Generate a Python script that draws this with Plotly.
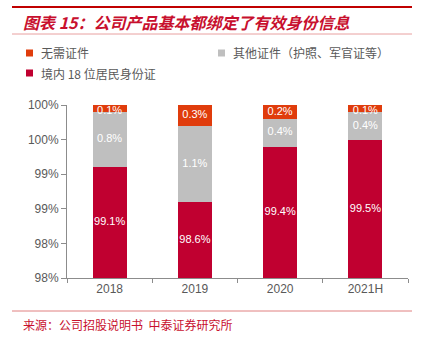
import math
import plotly.graph_objects as go

years = ["2018", "2019", "2020", "2021H"]
id_card = [99.1, 98.6, 99.4, 99.5]
other_docs = [0.8, 1.1, 0.4, 0.4]
no_docs = [0.1, 0.3, 0.2, 0.1]
y_ticks = [97.5, 98.0, 98.5, 99.0, 99.5, 100.0]

series = [
    ("境内18位居民身份证", id_card, "#C00030"),
    ("其他证件（护照、军官证等）", other_docs, "#BFBFBF"),
    ("无需证件", no_docs, "#E03C0C"),
]

W, H = 427, 338
L, R, T, B = 67, 19, 105, 60
Y0, Y1 = 97.5, 100.0

def px(x):
    return (x - L) / (W - L - R)

def py(y):
    return (H - B - y) / (H - T - B)

fig = go.Figure()
bases = [0.0] * len(years)
lab_x, lab_y, lab_t = [], [], []
for name, vals, color in series:
    fig.add_trace(go.Bar(x=years, y=vals, name=name, marker_color=color,
                         marker_line_width=0, width=0.4, showlegend=False))
    for i, v in enumerate(vals):
        lo = max(Y0, bases[i])
        hi = bases[i] + v
        mid = min((lo + hi) / 2, 99.91)
        lab_x.append(years[i])
        lab_y.append(mid)
        lab_t.append(f"{v:.1f}%")
        bases[i] = hi

fig.add_trace(go.Scatter(x=lab_x, y=lab_y, text=lab_t, mode="text",
                         textfont=dict(color="white", size=11, family="Liberation Sans"),
                         cliponaxis=False, showlegend=False, hoverinfo="skip"))

fig.update_layout(
    width=W, height=H, barmode="stack",
    margin=dict(l=L, r=R, t=T, b=B, pad=0),
    paper_bgcolor="white", plot_bgcolor="white",
    font=dict(family="Liberation Sans", color="#595959", size=12),
)
fig.update_yaxes(range=[Y0, Y1], tickmode="array", tickvals=y_ticks,
                 ticktext=[f"{math.floor(v + 0.5)}%" for v in y_ticks],
                 showgrid=False, zeroline=False,
                 showline=True, linecolor="#8C8C8C", linewidth=1,
                 ticks="outside", ticklen=5, tickcolor="#8C8C8C",
                 tickfont=dict(size=12, color="#595959"))
fig.update_xaxes(showgrid=False, showline=True, linecolor="#8C8C8C", linewidth=1,
                 ticks="outside", ticklen=4, tickcolor="#8C8C8C", tickson="boundaries",
                 tickfont=dict(size=12, color="#595959"))

shapes = [
    dict(type="line", xref="paper", yref="paper", x0=px(12), x1=px(412), y0=py(7), y1=py(7),
         line=dict(color="#C00000", width=2)),
    dict(type="line", xref="paper", yref="paper", x0=px(12), x1=px(412), y0=py(34), y1=py(34),
         line=dict(color="#E8A0A0", width=1)),
    dict(type="line", xref="paper", yref="paper", x0=px(12), x1=px(412), y0=py(311), y1=py(311),
         line=dict(color="#E08080", width=1)),
]
legend_items = [
    ("无需证件", "#E03C0C", 26, 53),
    ("其他证件（护照、军官证等）", "#BFBFBF", 218, 53),
    ("境内 18 位居民身份证", "#C00030", 26, 73),
]
annotations = [
    dict(text="<b><i>图表 15：公司产品基本都绑定了有效身份信息</i></b>", xref="paper", yref="paper",
         x=px(21), y=py(22), xanchor="left", yanchor="middle", showarrow=False,
         font=dict(family="Noto Sans CJK SC", size=16, color="#C8102E")),
    dict(text="来源：公司招股说明书  中泰证券研究所", xref="paper", yref="paper",
         x=px(21), y=py(324), xanchor="left", yanchor="middle", showarrow=False,
         font=dict(family="Noto Sans CJK SC", size=12, color="#C8102E")),
]
for text, color, x, y in legend_items:
    shapes.append(dict(type="rect", xref="paper", yref="paper", x0=px(x), x1=px(x + 7),
                       y0=py(y - 3.5), y1=py(y + 3.5), fillcolor=color, line_width=0))
    annotations.append(dict(text=text, xref="paper", yref="paper", x=px(x + 13), y=py(y),
                            xanchor="left", yanchor="middle", showarrow=False,
                            font=dict(family="Noto Sans CJK SC", size=12, color="#595959")))
fig.update_layout(shapes=shapes, annotations=annotations)

fig.write_html("out.html")
